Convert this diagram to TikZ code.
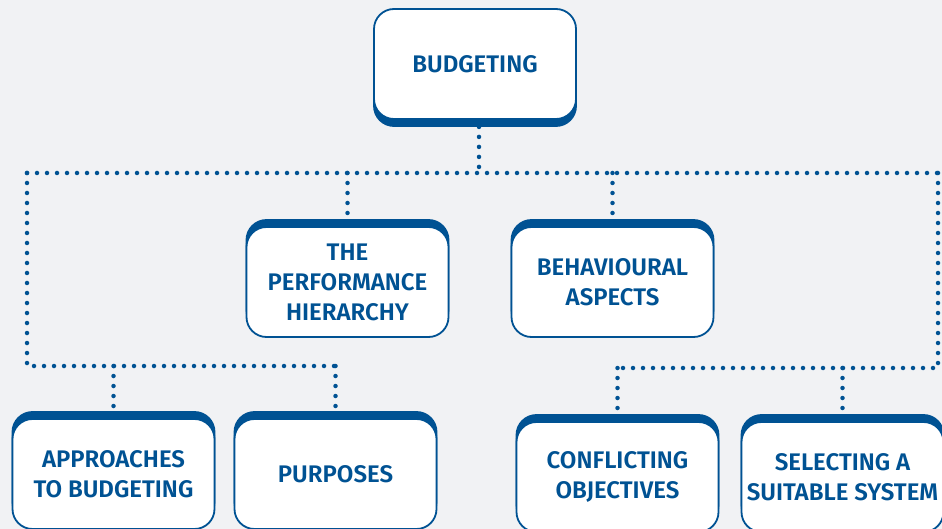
\documentclass[tikz,border=0pt]{standalone}
\usepackage{fontspec}
\setmainfont{Fira Sans}[BoldFont={Fira Sans SemiBold}]
\usetikzlibrary{shadows}
\definecolor{bblue}{RGB}{0,82,147}
\definecolor{bgrey}{RGB}{241,242,244}
\tikzstyle{box}     = [draw=bblue, line width=1.8pt, rounded corners=20pt, fill=white, minimum width=202pt, minimum height=110pt, align=center, text=bblue, font=\fontsize{24}{30}\selectfont\bfseries]
\tikzstyle{topbox}  = [box, copy shadow={shadow xshift=0pt, shadow yshift=-7pt, fill=bblue, draw=bblue}]
\tikzstyle{subbox}  = [box, copy shadow={shadow xshift=0pt, shadow yshift=7pt, fill=bblue, draw=bblue}]
\tikzstyle{dotline} = [bblue, line width=4.5pt, line cap=round, dash pattern=on 0pt off 10pt]

\begin{document}
\begin{tikzpicture}[x=1pt, y=-1pt]
  % Background
  \fill[bgrey] (0,0) rectangle (942,529);
  \useasboundingbox (0,0) rectangle (942,529);
  % Top box
  \node[topbox] (budget) at (475,64) {BUDGETING};
  % Middle row
  \node[subbox] (perf) at (347.5,282) {THE\\PERFORMANCE\\HIERARCHY};
  \node[subbox] (behav) at (612.5,282) {BEHAVIOURAL\\ASPECTS};
  % Bottom row
  \node[subbox] (approach) at (113.5,474) {APPROACHES\\TO BUDGETING};
  \node[subbox] (purpose) at (335.5,474) {PURPOSES};
  \node[subbox] (conflict) at (617.5,477) {CONFLICTING\\OBJECTIVES};
  \node[subbox] (select) at (842.5,477) {SELECTING A\\SUITABLE SYSTEM};
  % Corners of the dotted lines
  \coordinate (hub) at (479,173);
  \coordinate (lefttop) at (27,173);
  \coordinate (righttop) at (938,173);
  \coordinate (leftlow) at (27,366);
  \coordinate (rightlow) at (938,368);
  % Connectors
  \draw[dotline] ([yshift=-7pt]budget.south -| hub) -- (hub);
  \draw[dotline] (lefttop) -- (righttop);
  \draw[dotline] (perf.north |- hub) -- ([yshift=7pt]perf.north);
  \draw[dotline] (behav.north |- hub) -- ([yshift=7pt]behav.north);
  \draw[dotline] (lefttop) -- (leftlow) -- (leftlow -| purpose.north);
  \draw[dotline] (righttop) -- (rightlow) -- (rightlow -| conflict.north);
  \draw[dotline] (leftlow -| approach.north) -- ([yshift=7pt]approach.north);
  \draw[dotline] (leftlow -| purpose.north) -- ([yshift=7pt]purpose.north);
  \draw[dotline] (rightlow -| conflict.north) -- ([yshift=7pt]conflict.north);
  \draw[dotline] (rightlow -| select.north) -- ([yshift=7pt]select.north);
\end{tikzpicture}
\end{document}
